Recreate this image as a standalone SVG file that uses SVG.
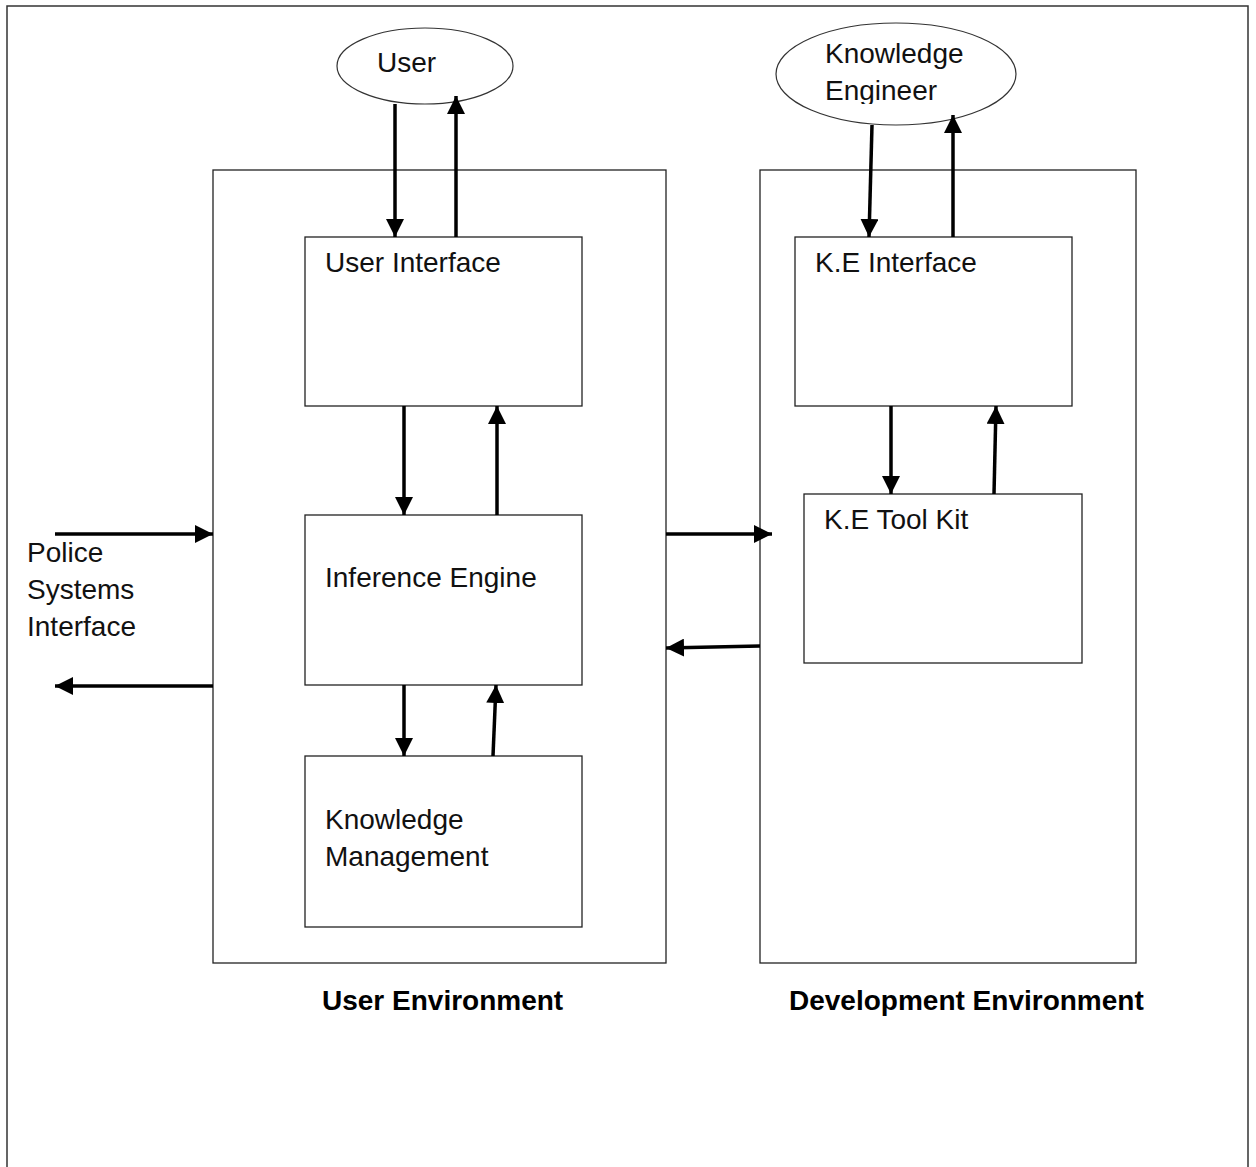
<svg xmlns="http://www.w3.org/2000/svg" width="1256" height="1167" viewBox="0 0 1256 1167">
<style>
.bg{fill:#fff}
.frame{fill:none;stroke:#333;stroke-width:1.5}
.box{fill:#fff;stroke:#222;stroke-width:1.3}
.ell{fill:#fff;stroke:#333;stroke-width:1.2}
.t{font-family:"Liberation Sans",Arial,sans-serif;font-size:28px;fill:#111}
.b{font-family:"Liberation Sans",Arial,sans-serif;font-size:28px;font-weight:bold;fill:#000}
.c{fill:none;stroke:#000;stroke-width:3.5}
</style>
<defs>
<marker id="ah" viewBox="0 0 18 18" refX="18" refY="9" markerWidth="18" markerHeight="18" markerUnits="userSpaceOnUse" orient="auto">
<path d="M0,0 L18,9 L0,18 z" fill="#000"/>
</marker>
<clipPath id="keclip"><rect x="770" y="20" width="260" height="84"/></clipPath>
</defs>
<rect class="bg" x="0" y="0" width="1256" height="1167"/>
<path class="frame" d="M7,1167 V6 H1248 V1167"/>

<g id="user-env">
<rect class="box" x="213" y="170" width="453" height="793"/>
<text class="b" x="322" y="1010">User Environment</text>
</g>
<g id="dev-env">
<rect class="box" x="760" y="170" width="376" height="793"/>
<text class="b" x="789" y="1010">Development Environment</text>
</g>

<g id="user">
<ellipse class="ell" cx="425" cy="66" rx="88" ry="38"/>
<text class="t" x="377" y="72">User</text>
</g>
<g id="knowledge-engineer">
<ellipse class="ell" cx="896" cy="74" rx="120" ry="51"/>
<text class="t" x="825" y="63">Knowledge</text>
<text class="t" x="825" y="100" clip-path="url(#keclip)">Engineer</text>
</g>

<g id="user-interface">
<rect class="box" x="305" y="237" width="277" height="169"/>
<text class="t" x="325" y="272">User Interface</text>
</g>
<g id="inference-engine">
<rect class="box" x="305" y="515" width="277" height="170"/>
<text class="t" x="325" y="587">Inference Engine</text>
</g>
<g id="knowledge-management">
<rect class="box" x="305" y="756" width="277" height="171"/>
<text class="t" x="325" y="829">Knowledge</text>
<text class="t" x="325" y="866">Management</text>
</g>
<g id="ke-interface">
<rect class="box" x="795" y="237" width="277" height="169"/>
<text class="t" x="815" y="272">K.E Interface</text>
</g>
<g id="ke-toolkit">
<rect class="box" x="804" y="494" width="278" height="169"/>
<text class="t" x="824" y="529">K.E Tool Kit</text>
</g>
<g id="police">
<text class="t" x="27" y="562">Police</text>
<text class="t" x="27" y="599">Systems</text>
<text class="t" x="27" y="636">Interface</text>
</g>

<g id="connectors">
<line class="c" x1="395" y1="104" x2="395" y2="237" marker-end="url(#ah)"/>
<line class="c" x1="456" y1="237" x2="456" y2="96" marker-end="url(#ah)"/>
<line class="c" x1="404" y1="406" x2="404" y2="515" marker-end="url(#ah)"/>
<line class="c" x1="497" y1="515" x2="497" y2="406" marker-end="url(#ah)"/>
<line class="c" x1="404" y1="685" x2="404" y2="756" marker-end="url(#ah)"/>
<line class="c" x1="493" y1="756" x2="496" y2="685" marker-end="url(#ah)"/>
<line class="c" x1="872" y1="125" x2="869" y2="237" marker-end="url(#ah)"/>
<line class="c" x1="953" y1="237" x2="953" y2="115" marker-end="url(#ah)"/>
<line class="c" x1="891" y1="406" x2="891" y2="494" marker-end="url(#ah)"/>
<line class="c" x1="994" y1="494" x2="996" y2="406" marker-end="url(#ah)"/>
<line class="c" x1="55" y1="534" x2="213" y2="534" marker-end="url(#ah)"/>
<line class="c" x1="213" y1="686" x2="55" y2="686" marker-end="url(#ah)"/>
<line class="c" x1="666" y1="534" x2="772" y2="534" marker-end="url(#ah)"/>
<line class="c" x1="760" y1="646" x2="666" y2="648" marker-end="url(#ah)"/>
</g>
</svg>
